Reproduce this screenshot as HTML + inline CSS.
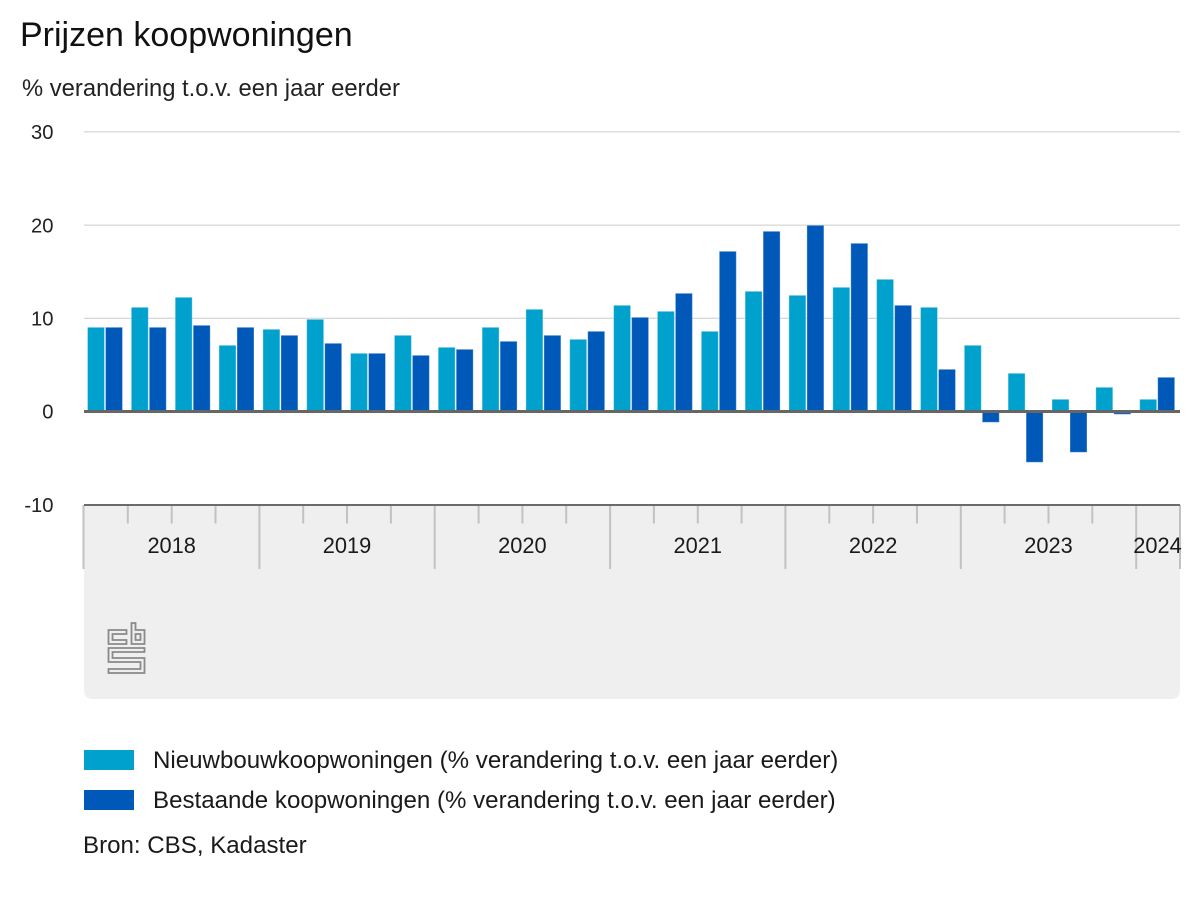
<!DOCTYPE html>
<html><head><meta charset="utf-8"><style>
html,body{margin:0;padding:0;background:#fff;}
svg{display:block;font-family:"Liberation Sans",Arial,sans-serif;}
</style></head><body>
<svg width="1200" height="900" viewBox="0 0 1200 900" xmlns="http://www.w3.org/2000/svg">
<rect width="1200" height="900" fill="#fff"/>
<text x="20" y="46" font-size="34" fill="#111">Prijzen koopwoningen</text>
<text x="22" y="96" font-size="23.8" fill="#222">% verandering t.o.v. een jaar eerder</text>

<!-- gridlines -->
<g stroke="#cccccc" stroke-width="1">
<line x1="84" y1="131.9" x2="1180" y2="131.9"/>
<line x1="84" y1="225.1" x2="1180" y2="225.1"/>
<line x1="84" y1="318.3" x2="1180" y2="318.3"/>
</g>
<g font-size="20.2" fill="#222" text-anchor="end">
<text x="53.5" y="139">30</text>
<text x="53.5" y="232.3">20</text>
<text x="53.5" y="325.5">10</text>
<text x="53.5" y="418.7">0</text>
<text x="53.5" y="512">-10</text>
</g>

<!-- gray panel -->
<path d="M84,505 H1180 V690 Q1180,699 1171,699 H93 Q84,699 84,690 Z" fill="#efefef"/>

<!-- bars -->
<g stroke="#ffffff" stroke-opacity="0.35" stroke-width="1">
<g fill="#00a1cd">
<rect x="87.5" y="327.3" width="17" height="84.2"/>
<rect x="131.3" y="307.3" width="17" height="104.2"/>
<rect x="175.2" y="297.3" width="17" height="114.2"/>
<rect x="219" y="345.3" width="17" height="66.2"/>
<rect x="262.9" y="329.3" width="17" height="82.2"/>
<rect x="306.7" y="319.3" width="17" height="92.2"/>
<rect x="350.5" y="353.3" width="17" height="58.2"/>
<rect x="394.4" y="335.3" width="17" height="76.2"/>
<rect x="438.2" y="347.3" width="17" height="64.2"/>
<rect x="482.1" y="327.3" width="17" height="84.2"/>
<rect x="525.9" y="309.3" width="17" height="102.2"/>
<rect x="569.7" y="339.3" width="17" height="72.2"/>
<rect x="613.6" y="305.3" width="17" height="106.2"/>
<rect x="657.4" y="311.3" width="17" height="100.2"/>
<rect x="701.3" y="331.3" width="17" height="80.2"/>
<rect x="745.1" y="291.3" width="17" height="120.2"/>
<rect x="788.9" y="295.3" width="17" height="116.2"/>
<rect x="832.8" y="287.3" width="17" height="124.2"/>
<rect x="876.6" y="279.3" width="17" height="132.2"/>
<rect x="920.5" y="307.3" width="17" height="104.2"/>
<rect x="964.3" y="345.3" width="17" height="66.2"/>
<rect x="1008.1" y="373.3" width="17" height="38.2"/>
<rect x="1052" y="399.3" width="17" height="12.2"/>
<rect x="1095.8" y="387.3" width="17" height="24.2"/>
<rect x="1139.7" y="399.3" width="17" height="12.2"/>
</g>
<g fill="#0058b8">
<rect x="105.5" y="327.3" width="17" height="84.2"/>
<rect x="149.3" y="327.3" width="17" height="84.2"/>
<rect x="193.2" y="325.3" width="17" height="86.2"/>
<rect x="237" y="327.3" width="17" height="84.2"/>
<rect x="280.9" y="335.3" width="17" height="76.2"/>
<rect x="324.7" y="343.3" width="17" height="68.2"/>
<rect x="368.5" y="353.3" width="17" height="58.2"/>
<rect x="412.4" y="355.3" width="17" height="56.2"/>
<rect x="456.2" y="349.3" width="17" height="62.2"/>
<rect x="500.1" y="341.3" width="17" height="70.2"/>
<rect x="543.9" y="335.3" width="17" height="76.2"/>
<rect x="587.7" y="331.3" width="17" height="80.2"/>
<rect x="631.6" y="317.3" width="17" height="94.2"/>
<rect x="675.4" y="293.3" width="17" height="118.2"/>
<rect x="719.3" y="251.3" width="17" height="160.2"/>
<rect x="763.1" y="231.3" width="17" height="180.2"/>
<rect x="806.9" y="225.3" width="17" height="186.2"/>
<rect x="850.8" y="243.3" width="17" height="168.2"/>
<rect x="894.6" y="305.3" width="17" height="106.2"/>
<rect x="938.5" y="369.3" width="17" height="42.2"/>
<rect x="982.3" y="411.5" width="17" height="10.8"/>
<rect x="1026.1" y="411.5" width="17" height="50.8"/>
<rect x="1070" y="411.5" width="17" height="40.8"/>
<rect x="1113.8" y="411.5" width="17" height="2.8"/>
<rect x="1157.7" y="377.3" width="17" height="34.2"/>
</g>
</g>

<!-- zero line -->
<line x1="84" y1="411.5" x2="1180" y2="411.5" stroke="#666666" stroke-width="3"/>

<!-- ticks -->
<g stroke="#c2c2c2" stroke-width="2">
<line x1="83.5" y1="505" x2="83.5" y2="569"/>
<line x1="259.4" y1="505" x2="259.4" y2="569"/>
<line x1="434.7" y1="505" x2="434.7" y2="569"/>
<line x1="610.1" y1="505" x2="610.1" y2="569"/>
<line x1="785.4" y1="505" x2="785.4" y2="569"/>
<line x1="960.8" y1="505" x2="960.8" y2="569"/>
<line x1="1136.2" y1="505" x2="1136.2" y2="569"/>
<line x1="1180" y1="505" x2="1180" y2="569"/>
<line x1="127.8" y1="505" x2="127.8" y2="523.5"/>
<line x1="171.7" y1="505" x2="171.7" y2="523.5"/>
<line x1="215.5" y1="505" x2="215.5" y2="523.5"/>
<line x1="303.2" y1="505" x2="303.2" y2="523.5"/>
<line x1="347" y1="505" x2="347" y2="523.5"/>
<line x1="390.9" y1="505" x2="390.9" y2="523.5"/>
<line x1="478.6" y1="505" x2="478.6" y2="523.5"/>
<line x1="522.4" y1="505" x2="522.4" y2="523.5"/>
<line x1="566.2" y1="505" x2="566.2" y2="523.5"/>
<line x1="653.9" y1="505" x2="653.9" y2="523.5"/>
<line x1="697.8" y1="505" x2="697.8" y2="523.5"/>
<line x1="741.6" y1="505" x2="741.6" y2="523.5"/>
<line x1="829.3" y1="505" x2="829.3" y2="523.5"/>
<line x1="873.1" y1="505" x2="873.1" y2="523.5"/>
<line x1="917" y1="505" x2="917" y2="523.5"/>
<line x1="1004.6" y1="505" x2="1004.6" y2="523.5"/>
<line x1="1048.5" y1="505" x2="1048.5" y2="523.5"/>
<line x1="1092.3" y1="505" x2="1092.3" y2="523.5"/>
</g>
<line x1="84" y1="505" x2="1180" y2="505" stroke="#6b6b6b" stroke-width="2"/>

<g font-size="21.8" fill="#1a1a1a" text-anchor="middle">
<text x="171.7" y="553">2018</text>
<text x="347" y="553">2019</text>
<text x="522.4" y="553">2020</text>
<text x="697.8" y="553">2021</text>
<text x="873.1" y="553">2022</text>
<text x="1048.5" y="553">2023</text>
<text x="1157.5" y="553">2024</text>
</g>

<!-- CBS logo -->
<g transform="translate(107.5,622)" fill="none" stroke="#8a8a8a" stroke-width="1.8" stroke-linejoin="miter">
<path d="M19,8 H1 V22 H19 V18 H5 V12 H19 Z"/>
<path d="M24,1 H28 V8 H37 V22 H24 Z"/>
<path d="M28,12 H33 V18 H28 Z"/>
<path d="M37,26 H1 V40 H33 V47 H1 V51 H37 V36 H5 V30 H37 Z"/>
</g>

<!-- legend -->
<rect x="84" y="750" width="50" height="20" fill="#00a1cd"/>
<rect x="84" y="790" width="50" height="20" fill="#0058b8"/>
<g font-size="24.1" fill="#1a1a1a">
<text x="153" y="768">Nieuwbouwkoopwoningen (% verandering t.o.v. een jaar eerder)</text>
<text x="153" y="808">Bestaande koopwoningen (% verandering t.o.v. een jaar eerder)</text>
<text x="83" y="853">Bron: CBS, Kadaster</text>
</g>
</svg>
</body></html>
